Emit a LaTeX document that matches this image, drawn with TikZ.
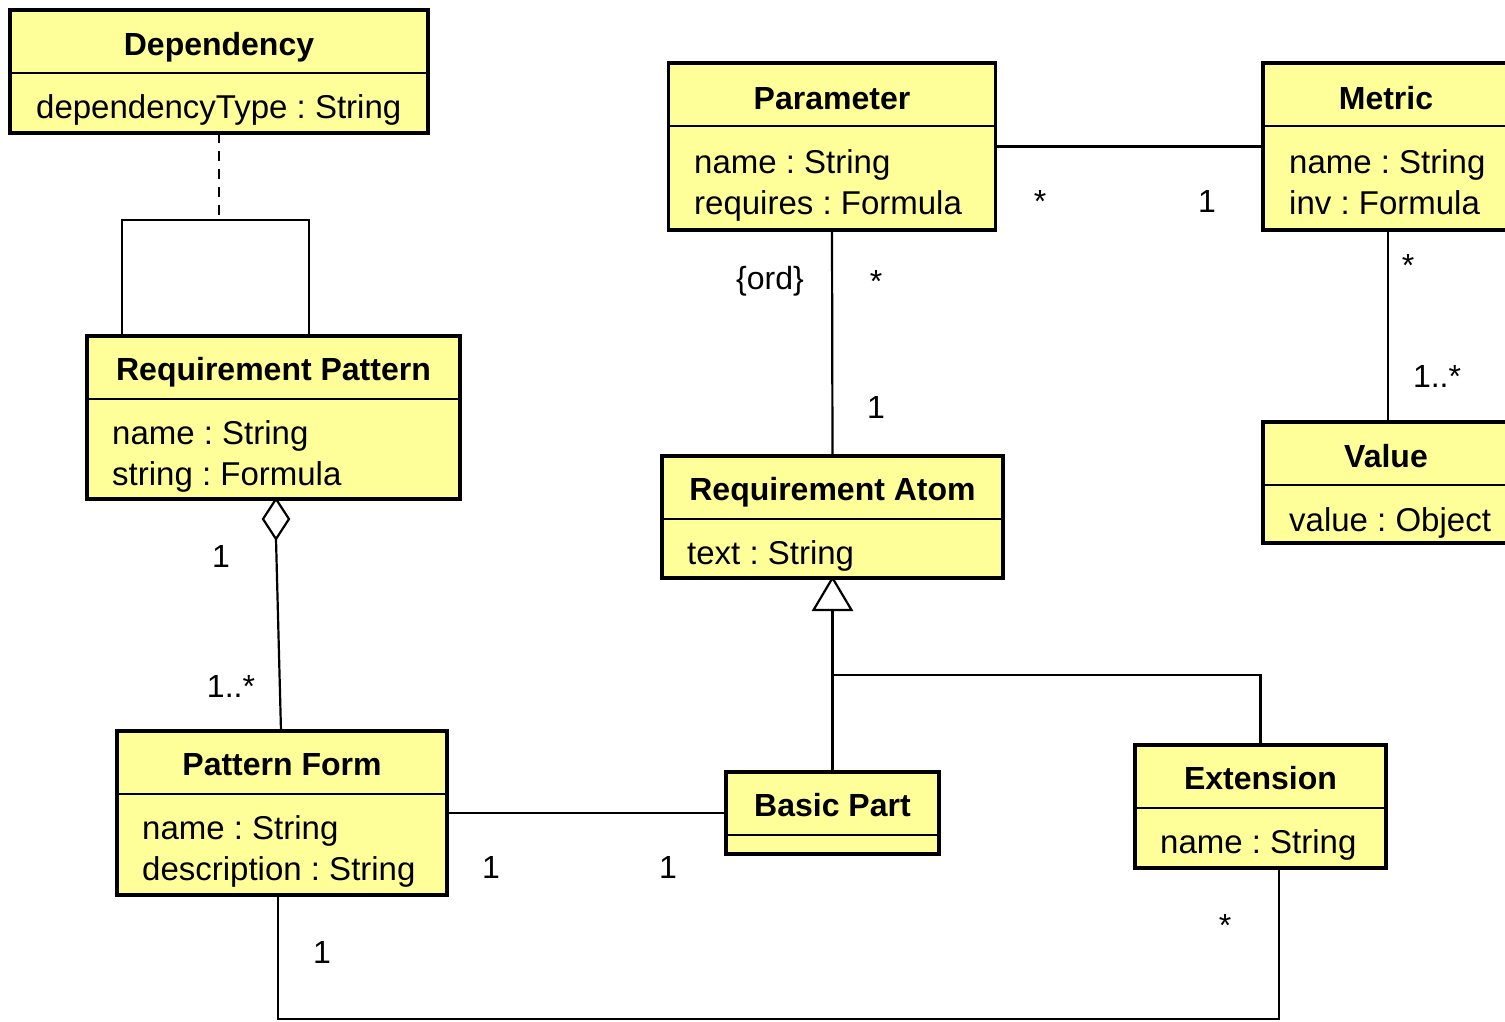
\documentclass[tikz,border=0pt]{standalone}
\usepackage{fontspec}
\setmainfont{Liberation Sans}
\usetikzlibrary{calc}
\definecolor{umlyellow}{HTML}{FFFF99}
\frenchspacing
\begin{document}
\begin{tikzpicture}[x=1pt,y=-1pt,
  classbox/.style={draw=black, fill=umlyellow, line width=3.8pt, inner sep=0pt, outer sep=0pt},
  divline/.style={line width=2.2pt},
  conn/.style={line width=2.2pt},
  ctitle/.style={font=\bfseries\fontsize{32}{40}\selectfont, inner sep=0pt, anchor=base},
  cattr/.style={font=\fontsize{33}{41}\selectfont, inner sep=0pt, anchor=base west},
  mult/.style={font=\fontsize{32}{40}\selectfont, inner sep=0pt, anchor=base},
]
\useasboundingbox (0,0) rectangle (1505,1021);
\clip (0,0) rectangle (1505,1021);

% ---------- classes ----------
% Dependency
\node[classbox, minimum width=418, minimum height=123] (dep) at (219,71.5) {};
\draw[divline] (10,73) -- (428,73);
\node[ctitle] (dep-t) at (219,55) {Dependency};
\node[cattr] (dep-a) at (36,118) {dependencyType : String};

% Parameter
\node[classbox, minimum width=327, minimum height=167] (par) at (832,146.5) {};
\draw[divline] (668.5,126) -- (995.5,126);
\node[ctitle] (par-t) at (832,109) {Parameter};
\node[cattr] (par-a1) at (694,173) {name : String};
\node[cattr] (par-a2) at (694,214) {requires : Formula};

% Metric
\node[classbox, minimum width=246, minimum height=167] (met) at (1386,146.5) {};
\draw[divline] (1263,126) -- (1509,126);
\node[ctitle] (met-t) at (1386,109) {Metric};
\node[cattr] (met-a1) at (1289,173) {name : String};
\node[cattr] (met-a2) at (1289,214) {inv : Formula};

% Value
\node[classbox, minimum width=246, minimum height=121] (val) at (1386,482.5) {};
\draw[divline] (1263,485) -- (1509,485);
\node[ctitle] (val-t) at (1386,467) {Value};
\node[cattr] (val-a) at (1289,531) {value : Object};

% Requirement Pattern
\node[classbox, minimum width=373, minimum height=163] (rp) at (273.5,417.5) {};
\draw[divline] (87,399) -- (460,399);
\node[ctitle] (rp-t) at (273.5,380) {Requirement Pattern};
\node[cattr] (rp-a1) at (112,444) {name : String};
\node[cattr] (rp-a2) at (112,485) {string : Formula};

% Requirement Atom
\node[classbox, minimum width=341, minimum height=122] (ra) at (832.5,517) {};
\draw[divline] (662,519) -- (1003,519);
\node[ctitle] (ra-t) at (832.5,500) {Requirement Atom};
\node[cattr] (ra-a) at (687,564) {text : String};

% Pattern Form
\node[classbox, minimum width=330, minimum height=164] (pf) at (282,813) {};
\draw[divline] (117,794) -- (447,794);
\node[ctitle] (pf-t) at (282,775) {Pattern Form};
\node[cattr] (pf-a1) at (142,839) {name : String};
\node[cattr] (pf-a2) at (142,880) {description : String};

% Basic Part
\node[classbox, minimum width=213, minimum height=82] (bp) at (832.5,813) {};
\draw[divline] (726,835) -- (939,835);
\node[ctitle] (bp-t) at (832.5,816) {Basic Part};

% Extension
\node[classbox, minimum width=251, minimum height=123] (ext) at (1260.5,806.5) {};
\draw[divline] (1135,808) -- (1386,808);
\node[ctitle] (ext-t) at (1260.5,789) {Extension};
\node[cattr] (ext-a) at (1160,853) {name : String};

% ---------- helper coordinates ----------
\coordinate (ly) at (0,220);
\coordinate (lx1) at (122,0);
\coordinate (lx2) at (309,0);
\coordinate (x276) at (276,0);
\coordinate (x281) at (281,0);
\coordinate (x1388) at (1388,0);
\coordinate (x278) at (278,0);
\coordinate (x1279) at (1279,0);
\coordinate (yb) at (0,1019);
\coordinate (yg) at (0,675);

% ---------- connectors ----------
% dependency (dashed) attached to the self association
\draw[conn, line width=2.6pt, dash pattern=on 10pt off 8pt] (dep.south) -- (dep.south |- ly);
\draw[conn] (rp.north -| lx1) -- (lx1 |- ly) -- (lx2 |- ly) -- (rp.north -| lx2);

% Parameter -- Metric
\draw[conn] (par.east) -- (met.west);
% Parameter -- Requirement Atom
\draw[conn] (par.south) -- (ra.north);
% Metric -- Value
\draw[conn] (met.south -| x1388) -- (val.north -| x1388);

% aggregation Requirement Pattern <>-- Pattern Form
\coordinate (dtop) at (rp.south -| x276);
\coordinate (dbot) at ($(dtop)+(0,40)$);
\draw[conn] (dbot) -- (pf.north -| x281);
\draw[conn, fill=white, line join=miter] (dtop) -- ++(13,20) -- ++(-13,20) -- ++(-13,-20) -- cycle;

% generalization Basic Part / Extension --|> Requirement Atom
\coordinate (gtip) at (ra.south);
\coordinate (gbase) at ($(gtip)+(0,32)$);
\draw[conn] (gbase) -- (bp.north);
\draw[conn] (gbase |- yg) -| (ext.north);
\draw[conn, fill=white, line join=miter] (gtip) -- ++(19,32) -- ++(-38,0) -- cycle;

% Pattern Form -- Basic Part
\draw[conn] (pf.east) -- (bp.west);

% Pattern Form -- Extension
\draw[conn] (pf.south -| x278) -- (x278 |- yb) -- (x1279 |- yb) -- (ext.south -| x1279);

% ---------- multiplicities ----------
\node[mult] (m1) at (1040,212) {*};
\node[mult] (m2) at (1207,212) {1};
\node[mult] (m3) at (770,289) {\{ord\}};
\node[mult] (m4) at (876,292) {*};
\node[mult] (m5) at (876,418) {1};
\node[mult] (m6) at (1408,276) {*};
\node[mult] (m7) at (1437,387) {1..*};
\node[mult] (m8) at (221,567) {1};
\node[mult] (m9) at (231,697) {1..*};
\node[mult] (m10) at (491,878) {1};
\node[mult] (m11) at (668,878) {1};
\node[mult] (m12) at (322,963) {1};
\node[mult] (m13) at (1225,936) {*};
\end{tikzpicture}
\end{document}
